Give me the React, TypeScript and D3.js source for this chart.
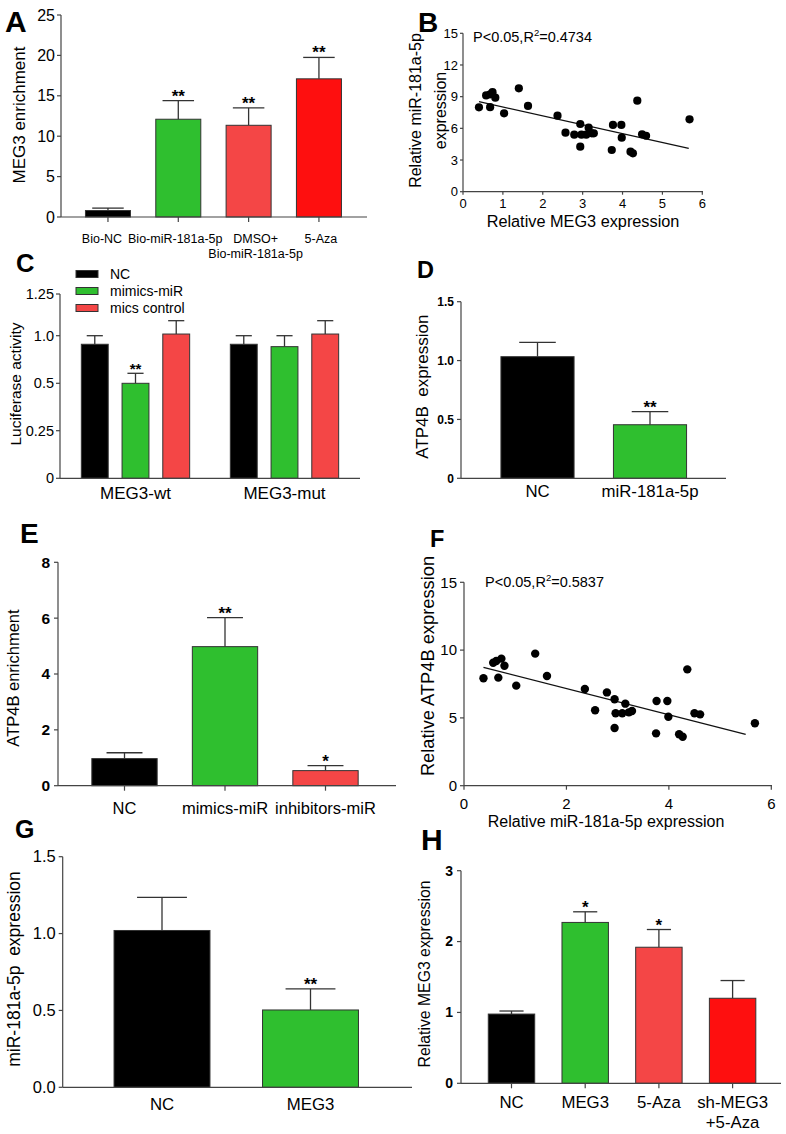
import React from 'react';
import * as d3 from 'd3';

const FONT = "'Liberation Sans', Arial, Helvetica, sans-serif";
const GREEN = '#2fbf2f';
const LRED = '#f44646';
const RED = '#fe0f0f';
const AXIS = '#444';

// ---------- Panel A ----------
const aCats = ['Bio-NC', 'Bio-miR-181a-5p', 'DMSO+\nBio-miR-181a-5p', '5-Aza'];
const aValues = [0.8, 12.1, 11.35, 17.1];
const aErrors = [0.3, 2.3, 2.15, 2.65];
const aStars = ['', '**', '**', '**'];
const aColors = ['#000000', GREEN, LRED, RED];
const aTicks = [0, 5, 10, 15, 20, 25];

// ---------- Panel B ----------
const bX = [0.40, 0.58, 0.68, 0.74, 0.81, 0.68, 1.03, 1.40, 1.63, 2.37, 2.57, 2.79, 2.94, 2.94, 2.97, 3.09, 3.15, 3.23, 3.28, 3.73, 3.76, 3.97, 3.98, 4.20, 4.26, 4.37, 4.49, 4.59, 5.68];
const bY = [7.99, 9.12, 9.22, 9.42, 8.90, 8.00, 7.42, 9.79, 8.12, 7.20, 5.59, 5.40, 6.41, 4.26, 5.40, 5.40, 6.06, 5.53, 5.53, 3.95, 6.32, 6.32, 5.12, 3.79, 3.63, 8.62, 5.43, 5.30, 6.85];
const bFitX = [0.40, 5.66];
const bFitY = [8.53, 4.10];
const bXTicks = [0, 1, 2, 3, 4, 5, 6];
const bYTicks = [0, 3, 6, 9, 12, 15];

// ---------- Panel C ----------
const cGroups = ['MEG3-wt', 'MEG3-mut'];
const cSeries = ['NC', 'mimics-miR', 'mics control'];
const cNC = [0.91, 0.91];
const cMimics = [0.50, 0.885];
const cControl = [1.01, 1.01];
const cNCErr = [0.09, 0.09];
const cMimicsErr = [0.105, 0.115];
const cControlErr = [0.08, 0.08];
const cStars = [['', '**', ''], ['', '', '']];
const cColors = ['#000000', GREEN, LRED];
const cTicks = [0, 0.25, 0.5, 1.0, 1.25];
const cTickLabels = ['0', '0.25', '0.5', '1.0', '1.25'];

// ---------- Panel D ----------
const dCats = ['NC', 'miR-181a-5p'];
const dValues = [1.033, 0.455];
const dErrors = [0.122, 0.111];
const dStars = ['', '**'];
const dColors = ['#000000', GREEN];
const dTicks = [0, 0.5, 1.0, 1.5];

// ---------- Panel E ----------
const eCats = ['NC', 'mimics-miR', 'inhibitors-miR'];
const eValues = [0.97, 4.98, 0.54];
const eErrors = [0.21, 1.04, 0.18];
const eStars = ['', '**', '*'];
const eColors = ['#000000', GREEN, LRED];
const eTicks = [0, 2, 4, 6, 8];

// ---------- Panel F ----------
const fX = [0.38, 0.57, 0.63, 0.73, 0.79, 0.67, 1.02, 1.39, 1.62, 2.36, 2.56, 2.79, 2.94, 2.94, 2.96, 3.09, 3.15, 3.22, 3.28, 3.75, 3.76, 3.97, 3.99, 4.20, 4.27, 4.36, 4.50, 4.61, 5.68];
const fY = [7.92, 9.07, 9.20, 9.37, 8.85, 7.97, 7.38, 9.74, 8.09, 7.13, 5.56, 6.88, 6.37, 4.25, 5.34, 5.34, 6.05, 5.41, 5.51, 3.86, 6.25, 6.25, 5.09, 3.79, 3.61, 8.58, 5.34, 5.26, 4.60];
const fFitX = [0.38, 5.50];
const fFitY = [8.73, 3.79];
const fXTicks = [0, 2, 4, 6];
const fYTicks = [0, 5, 10, 15];

// ---------- Panel G ----------
const gCats = ['NC', 'MEG3'];
const gValues = [1.02, 0.503];
const gErrors = [0.216, 0.137];
const gStars = ['', '**'];
const gColors = ['#000000', GREEN];
const gTicks = [0, 0.5, 1.0, 1.5];

// ---------- Panel H ----------
const hCats = ['NC', 'MEG3', '5-Aza', 'sh-MEG3\n+5-Aza'];
const hValues = [0.977, 2.27, 1.92, 1.20];
const hErrors = [0.043, 0.15, 0.25, 0.25];
const hStars = ['', '*', '*', ''];
const hColors = ['#000000', GREEN, LRED, RED];
const hTicks = [0, 1, 2, 3];

type BarSpec = {
  cats: string[]; values: number[]; errs: number[]; stars: string[]; colors: string[];
  band: [number, number]; pad: number; axisX: [number, number];
  yPx: [number, number]; yDomain: [number, number]; ticks: number[];
  tickSize: number; tickBold?: boolean; tickGap: number; tickFmt: (v: number) => string;
  catTicks: boolean; labelY: number; labelSize: number; lineH: number; labelDx?: number[];
  capFrac: number; starSize: number;
};

function BarPanel(s: BarSpec) {
  const x = d3.scaleBand<string>().domain(s.cats).range(s.band).paddingInner(s.pad).paddingOuter(s.pad / 2);
  const y = d3.scaleLinear().domain(s.yDomain).range(s.yPx);
  const bw = x.bandwidth();
  const y0 = y(0);
  return (
    <g>
      {s.cats.map((c, i) => {
        const cx = (x(c) as number) + bw / 2;
        const top = y(s.values[i]);
        const et = y(s.values[i] + s.errs[i]);
        const ldx = s.labelDx ? s.labelDx[i] : 0;
        return (
          <g key={c}>
            <line x1={cx} x2={cx} y1={top} y2={et} stroke="#333" strokeWidth={1.3} />
            <line x1={cx - (bw * s.capFrac) / 2} x2={cx + (bw * s.capFrac) / 2} y1={et} y2={et} stroke="#333" strokeWidth={1.3} />
            <rect x={x(c)} y={top} width={bw} height={y0 - top} fill={s.colors[i]} stroke="#333" strokeWidth={1} />
            {s.stars[i] ? (
              <text x={cx} y={et + 1} textAnchor="middle" fontSize={s.starSize} fontWeight="bold">{s.stars[i]}</text>
            ) : null}
            {s.catTicks ? <line x1={cx} x2={cx} y1={y0} y2={y0 + 5} stroke={AXIS} strokeWidth={1.2} /> : null}
            {c.split('\n').map((ln, k) => (
              <text key={k} x={cx + ldx} y={s.labelY + k * s.lineH} textAnchor="middle" fontSize={s.labelSize}>{ln}</text>
            ))}
          </g>
        );
      })}
      <line x1={s.axisX[0]} x2={s.axisX[0]} y1={y(s.yDomain[1])} y2={y0} stroke={AXIS} strokeWidth={1.2} />
      <line x1={s.axisX[0]} x2={s.axisX[1]} y1={y0} y2={y0} stroke={AXIS} strokeWidth={1.2} />
      {s.ticks.map((t) => (
        <g key={t}>
          <line x1={s.axisX[0] - 4} x2={s.axisX[0]} y1={y(t)} y2={y(t)} stroke={AXIS} strokeWidth={1.2} />
          <text x={s.axisX[0] - s.tickGap} y={y(t)} dy="0.35em" textAnchor="end" fontSize={s.tickSize} fontWeight={s.tickBold ? 'bold' : 'normal'}>{s.tickFmt(t)}</text>
        </g>
      ))}
    </g>
  );
}

type ScatterSpec = {
  xs: number[]; ys: number[]; fitX: number[]; fitY: number[];
  xPx: [number, number]; yPx: [number, number]; xDomain: [number, number]; yDomain: [number, number];
  axisXEnd: number; xTicks: number[]; yTicks: number[]; tickSize: number; tickLen: number;
  xTickY: number; yTickGap: number; r: number;
};

function Scatter(s: ScatterSpec) {
  const x = d3.scaleLinear().domain(s.xDomain).range(s.xPx);
  const y = d3.scaleLinear().domain(s.yDomain).range(s.yPx);
  const line = d3.line<number>().x((d) => x(s.fitX[d])).y((d) => y(s.fitY[d]));
  const x0 = x(0);
  const y0 = y(0);
  return (
    <g>
      <line x1={x0} x2={x0} y1={y(s.yDomain[1])} y2={y0} stroke={AXIS} strokeWidth={1.2} />
      <line x1={x0} x2={s.axisXEnd} y1={y0} y2={y0} stroke={AXIS} strokeWidth={1.2} />
      {s.yTicks.map((t) => (
        <g key={'y' + t}>
          <line x1={x0 - s.tickLen} x2={x0} y1={y(t)} y2={y(t)} stroke={AXIS} strokeWidth={1.2} />
          <text x={x0 - s.yTickGap} y={y(t)} dy="0.35em" textAnchor="end" fontSize={s.tickSize}>{t}</text>
        </g>
      ))}
      {s.xTicks.map((t) => (
        <g key={'x' + t}>
          <line x1={x(t)} x2={x(t)} y1={y0} y2={y0 + s.tickLen} stroke={AXIS} strokeWidth={1.2} />
          <text x={x(t)} y={s.xTickY} textAnchor="middle" fontSize={s.tickSize}>{t}</text>
        </g>
      ))}
      <path d={line([0, 1]) || ''} fill="none" stroke="#111" strokeWidth={1.3} />
      {s.xs.map((v, i) => (
        <circle key={i} cx={x(v)} cy={y(s.ys[i])} r={s.r} fill="#000" />
      ))}
    </g>
  );
}

function PanelC() {
  const x0 = d3.scaleBand<string>().domain(cGroups).range([61, 359]).paddingInner(0.18).paddingOuter(0.09);
  const x1 = d3.scaleBand<string>().domain(cSeries).range([0, x0.bandwidth()]).paddingInner(0.34).paddingOuter(0.17);
  const y = d3.scaleLinear().domain(cTicks).range([478.3, 430.7, 383.3, 335.7, 294]);
  const series = [cNC, cMimics, cControl];
  const errs = [cNCErr, cMimicsErr, cControlErr];
  const bw = x1.bandwidth();
  const yb = y(0);
  const axisX = 60;
  return (
    <g>
      {cGroups.map((g, gi) => (
        <g key={g}>
          {cSeries.map((sn, si) => {
            const bx = (x0(g) as number) + (x1(sn) as number);
            const cx = bx + bw / 2;
            const v = series[si][gi];
            const top = y(v);
            const et = y(v + errs[si][gi]);
            return (
              <g key={sn}>
                <line x1={cx} x2={cx} y1={top} y2={et} stroke="#333" strokeWidth={1.3} />
                <line x1={cx - bw * 0.3} x2={cx + bw * 0.3} y1={et} y2={et} stroke="#333" strokeWidth={1.3} />
                <rect x={bx} y={top} width={bw} height={yb - top} fill={cColors[si]} stroke="#333" strokeWidth={1} />
                {cStars[gi][si] ? (
                  <text x={cx} y={et + 1} textAnchor="middle" fontSize={15} fontWeight="bold">{cStars[gi][si]}</text>
                ) : null}
              </g>
            );
          })}
          <text x={(x0(g) as number) + x0.bandwidth() / 2} y={498.5} textAnchor="middle" fontSize={17}>{g}</text>
        </g>
      ))}
      <line x1={axisX} x2={axisX} y1={y(1.25)} y2={yb} stroke={AXIS} strokeWidth={1.2} />
      <line x1={axisX} x2={360} y1={yb} y2={yb} stroke={AXIS} strokeWidth={1.2} />
      {cTicks.map((t, i) => (
        <g key={t}>
          <line x1={axisX - 4} x2={axisX} y1={y(t)} y2={y(t)} stroke={AXIS} strokeWidth={1.2} />
          <text x={axisX - 6} y={y(t)} dy="0.35em" textAnchor="end" fontSize={14.5}>{cTickLabels[i]}</text>
        </g>
      ))}
      {cSeries.map((sn, si) => (
        <g key={sn}>
          <rect x={76} y={270.5 + si * 17} width={22} height={7} fill={cColors[si]} stroke="#333" strokeWidth={1} />
          <text x={110} y={274 + si * 17} dy="0.35em" fontSize={14}>{sn}</text>
        </g>
      ))}
      <text transform="translate(21,384) rotate(-90)" textAnchor="middle" fontSize={15.5}>Luciferase activity</text>
    </g>
  );
}

function YTitle({ x, y, size, children }: { x: number; y: number; size: number; children: React.ReactNode }) {
  return (
    <text transform={`translate(${x},${y}) rotate(-90)`} textAnchor="middle" fontSize={size} style={{ whiteSpace: 'pre' }}>
      {children}
    </text>
  );
}

function PanelLabel({ x, y, size, t }: { x: number; y: number; size: number; t: string }) {
  return <text x={x} y={y} fontSize={size} fontWeight="bold">{t}</text>;
}

export default function App() {
  return (
    <svg width={786} height={1134} viewBox="0 0 786 1134" style={{ position: 'absolute', left: 0, top: 0, background: '#fff' }} fontFamily={FONT}>
      <rect width={786} height={1134} fill="#fff" />
      {/* A */}
      <PanelLabel x={5} y={31.7} size={30} t="A" />
      <BarPanel cats={aCats} values={aValues} errs={aErrors} stars={aStars} colors={aColors}
        band={[72.8, 354.1]} pad={0.36} axisX={[61, 367]} yPx={[217, 15]} yDomain={[0, 25]} ticks={aTicks}
        tickSize={16} tickGap={6} tickFmt={(v) => String(v)} catTicks={true} labelY={243} labelSize={12.5} lineH={14.5}
        labelDx={[-6, -3, 7, 2]} capFrac={0.7} starSize={17} />
      <YTitle x={25} y={115} size={17}>MEG3 enrichment</YTitle>

      {/* B */}
      <PanelLabel x={418} y={31.7} size={28} t="B" />
      <Scatter xs={bX} ys={bY} fitX={bFitX} fitY={bFitY} xPx={[463, 702.3]} yPx={[191.7, 33.3]} xDomain={[0, 6]} yDomain={[0, 15]}
        axisXEnd={703} xTicks={bXTicks} yTicks={bYTicks} tickSize={13} tickLen={3} xTickY={208.3} yTickGap={5} r={4.1} />
      <text x={473} y={42} fontSize={14.5}>P&lt;0.05,R<tspan dy={-6} fontSize={9.5}>2</tspan><tspan dy={6}>=0.4734</tspan></text>
      <text x={583} y={226.7} textAnchor="middle" fontSize={16.3}>Relative MEG3 expression</text>
      <YTitle x={421} y={110.5} size={16}>Relative miR-181a-5p</YTitle>
      <YTitle x={445.5} y={110.5} size={16}>expression</YTitle>

      {/* C */}
      <PanelLabel x={16} y={271.7} size={25.5} t="C" />
      <PanelC />

      {/* D */}
      <PanelLabel x={417} y={278.3} size={23.5} t="D" />
      <BarPanel cats={dCats} values={dValues} errs={dErrors} stars={dStars} colors={dColors}
        band={[481.25, 706.25]} pad={0.35} axisX={[461, 726]} yPx={[478.3, 301.7]} yDomain={[0, 1.5]} ticks={dTicks}
        tickSize={12} tickBold={true} tickGap={7} tickFmt={(v) => v.toFixed(1).replace('0.0', '0')} catTicks={false} labelY={496.5} labelSize={16.8} lineH={16}
        capFrac={0.5} starSize={17} />
      <YTitle x={427.5} y={386.7} size={17}>ATP4B  expression</YTitle>

      {/* E */}
      <PanelLabel x={20} y={543} size={28} t="E" />
      <BarPanel cats={eCats} values={eValues} errs={eErrors} stars={eStars} colors={eColors}
        band={[74.25, 375.75]} pad={0.35} axisX={[58, 396]} yPx={[785.7, 562.3]} yDomain={[0, 8]} ticks={eTicks}
        tickSize={15.5} tickBold={true} tickGap={8} tickFmt={(v) => String(v)} catTicks={true} labelY={813.5} labelSize={16.5} lineH={16}
        capFrac={0.55} starSize={17} />
      <YTitle x={18.5} y={678} size={16.5}>ATP4B enrichment</YTitle>

      {/* F */}
      <PanelLabel x={430} y={546.7} size={23.5} t="F" />
      <Scatter xs={fX} ys={fY} fitX={fFitX} fitY={fFitY} xPx={[464, 771.3]} yPx={[785.7, 582.3]} xDomain={[0, 6]} yDomain={[0, 15]}
        axisXEnd={772} xTicks={fXTicks} yTicks={fYTicks} tickSize={15} tickLen={4} xTickY={808.5} yTickGap={7} r={4.2} />
      <text x={485} y={587} fontSize={14.5}>P&lt;0.05,R<tspan dy={-6} fontSize={9.5}>2</tspan><tspan dy={6}>=0.5837</tspan></text>
      <text x={606} y={826.5} textAnchor="middle" fontSize={16}>Relative miR-181a-5p expression</text>
      <YTitle x={433.5} y={666} size={18.3}>Relative ATP4B expression</YTitle>

      {/* G */}
      <PanelLabel x={15} y={837.5} size={25} t="G" />
      <BarPanel cats={gCats} values={gValues} errs={gErrors} stars={gStars} colors={gColors}
        band={[87.75, 384.75]} pad={0.354} axisX={[62.7, 412]} yPx={[1087.3, 856.7]} yDomain={[0, 1.5]} ticks={gTicks}
        tickSize={16.5} tickGap={7} tickFmt={(v) => v.toFixed(1)} catTicks={false} labelY={1110} labelSize={16.8} lineH={16}
        capFrac={0.52} starSize={17} />
      <YTitle x={19.5} y={969} size={17.5}>miR-181a-5p  expression</YTitle>

      {/* H */}
      <PanelLabel x={421} y={850} size={30} t="H" />
      <BarPanel cats={hCats} values={hValues} errs={hErrors} stars={hStars} colors={hColors}
        band={[474.65, 769.45]} pad={0.37} axisX={[461, 781]} yPx={[1083.3, 870.7]} yDomain={[0, 3]} ticks={hTicks}
        tickSize={14} tickBold={true} tickGap={8} tickFmt={(v) => String(v)} catTicks={true} labelY={1108.3} labelSize={16.8} lineH={20}
        capFrac={0.52} starSize={17} />
      <YTitle x={430} y={974} size={15.8}>Relative MEG3 expression</YTitle>
    </svg>
  );
}
